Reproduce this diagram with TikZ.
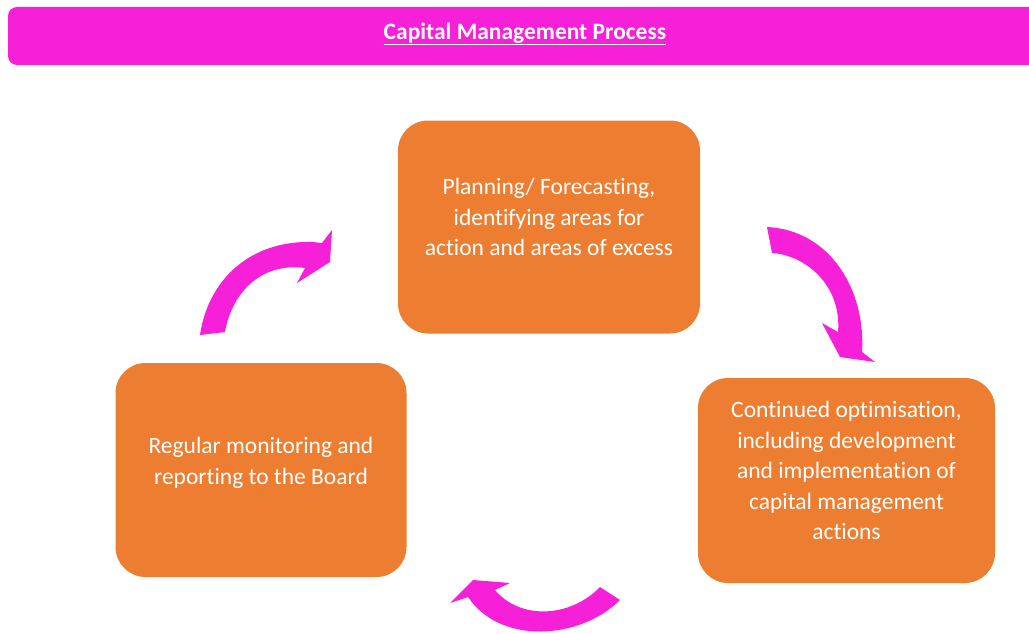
\documentclass[tikz,border=0pt]{standalone}
\usepackage{fontspec}
\setmainfont{Carlito}[Ligatures=NoCommon]
\definecolor{mag}{RGB}{245,32,216}
\definecolor{orng}{RGB}{237,125,49}
\tikzset{
  box/.style={fill=orng, rounded corners=30pt, inner sep=0pt},
  txt/.style={text=white, align=center, font=\fontsize{23.5}{30.5}\selectfont, inner sep=0pt},
  arr/.style={fill=mag},
}
\begin{document}
\begin{tikzpicture}[x=1pt,y=-1pt]
\useasboundingbox (0,0) rectangle (1029,634);
% title bar
\node[fill=mag, rounded corners=9pt, minimum width=1040pt, minimum height=58pt, inner sep=0pt] (bar) at (528,36) {};
\node[text=white, font=\fontsize{23.5}{28}\selectfont\bfseries, inner sep=0pt] (title) at (525,34) {\underline{Capital Management Process}};
% boxes
\node[box, minimum width=302pt, minimum height=213pt] (plan) at (549,227) {};
\node[box, minimum width=291pt, minimum height=214pt] (mon) at (261,470) {};
\node[box, minimum width=297pt, minimum height=205pt] (opt) at (846.5,480.5) {};
\node[txt] (plant) at ([yshift=10pt]plan.center) {Planning/ Forecasting,\\identifying areas for\\action and areas of excess};
\node[txt] (mont) at ([yshift=7pt]mon.center) {Regular monitoring and\\reporting to the Board};
\node[txt] (optt) at ([yshift=10pt]opt.center) {Continued optimisation,\\including development\\and implementation of\\capital management\\actions};
% arrow: monitoring -> planning
\fill[arr] (200,335) .. controls (208,280) and (250,240) .. (313,242) -- (322,243) -- (332,230) -- (330,262) -- (297,283) -- (305,268)
  .. controls (262,262) and (232,292) .. (225,332) -- cycle;
% arrow: planning -> optimisation
\fill[arr] (767,227) .. controls (830,230) and (866,290) .. (862,352) -- (875,362) -- (840,357) -- (822,323) -- (838,332)
  .. controls (842,285) and (805,255) .. (772,253) -- cycle;
% arrow: optimisation -> monitoring
\fill[arr] (620,600) .. controls (580,640) and (500,645) .. (468,597) -- (450,603) -- (473,580) -- (510,583) -- (495,590)
  .. controls (520,620) and (570,618) .. (600,587) -- cycle;
\end{tikzpicture}
\end{document}
